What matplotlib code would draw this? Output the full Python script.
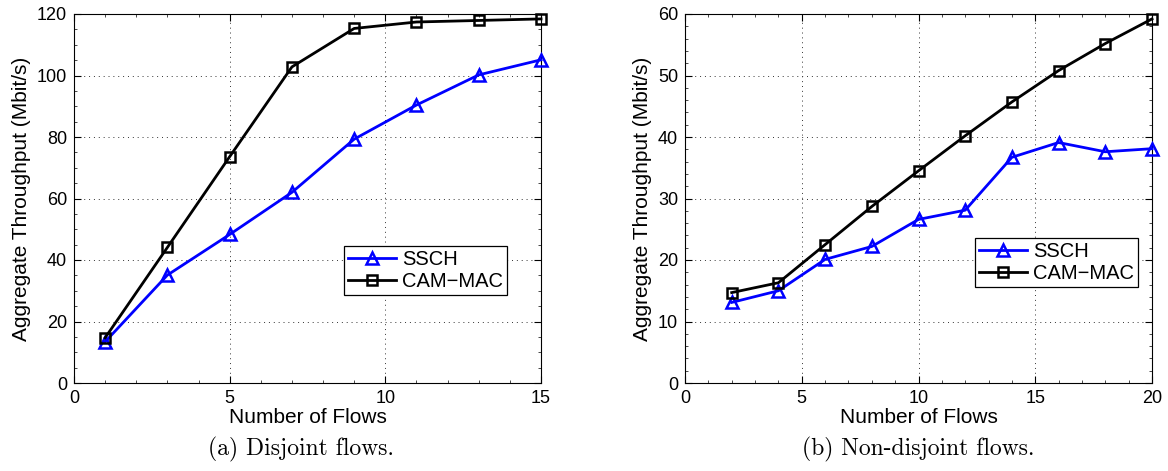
import numpy as np
import matplotlib.pyplot as plt

plt.rcParams['font.family'] = ['Liberation Sans', 'DejaVu Sans']

# (a) disjoint flows
flows_a = [1, 3, 5, 7, 9, 11, 13, 15]
ssch_a = [13.4, 35.1, 48.3, 62.0, 79.3, 90.4, 100.2, 105.1]
cam_a = [14.7, 44.1, 73.6, 102.8, 115.3, 117.4, 117.9, 118.4]

# (b) non-disjoint flows
flows_b = [2, 4, 6, 8, 10, 12, 14, 16, 18, 20]
ssch_b = [13.1, 15.0, 20.1, 22.2, 26.6, 28.1, 36.7, 39.1, 37.6, 38.1]
cam_b = [14.7, 16.3, 22.5, 28.7, 34.5, 40.2, 45.7, 50.8, 55.2, 59.2]

captions = ['(a) Disjoint flows.', '(b) Non-disjoint flows.']

W, H = 1168, 471
fig = plt.figure(figsize=(W / 100, H / 100), dpi=100)


def px_axes(x0, x1, y0, y1):
    return fig.add_axes([x0 / W, 1 - y1 / H, (x1 - x0) / W, (y1 - y0) / H])


ax1 = px_axes(74, 541, 14, 383)
ax2 = px_axes(685, 1152, 14, 383)

panels = [
    (ax1, flows_a, ssch_a, cam_a, 15, 120, [0, 5, 10, 15], np.arange(0, 121, 20)),
    (ax2, flows_b, ssch_b, cam_b, 20, 60, [0, 5, 10, 15, 20], np.arange(0, 61, 10)),
]

for ax, x, s, c, xmax, ymax, xt, yt in panels:
    ax.plot(x, s, color='blue', lw=2, marker='^', ms=9, mfc='none', mec='blue', mew=1.8,
            label='SSCH', clip_on=False, zorder=3)
    ax.plot(x, c, color='black', lw=2, marker='s', ms=6.5, mfc='none', mec='black', mew=1.8,
            label='CAM\u2212MAC', clip_on=False, zorder=4)
    ax.set_xlim(0, xmax)
    ax.set_ylim(0, ymax)
    ax.set_xticks(xt)
    ax.set_yticks(yt)
    ax.grid(True, linestyle=(0, (1, 4)), color='#333333', lw=0.7)
    ax.minorticks_on()
    ax.grid(False, which='minor')
    ax.tick_params(which='both', direction='in', top=True, right=True, labelsize=13)
    ax.tick_params(which='major', length=5, width=0.8, pad=5)
    ax.tick_params(which='minor', length=2, width=0.5)
    for sp in ax.spines.values():
        sp.set_linewidth(0.8)
    ax.set_xlabel('Number of Flows', fontsize=15, labelpad=1)
    ax.set_ylabel('Aggregate Throughput (Mbit/s)', fontsize=15, labelpad=4)

for ax, lx, ly in [(ax1, 344, 246), (ax2, 975, 238)]:
    x0 = 74 if ax is ax1 else 685
    leg = ax.legend(loc='upper left', bbox_to_anchor=((lx - x0) / 467, 1 - (ly - 14) / 369),
                    fontsize=14.5, fancybox=False, edgecolor='black', framealpha=1,
                    borderpad=0.2, handlelength=2.4, handletextpad=0.3, labelspacing=0.15,
                    borderaxespad=0)
    leg.get_frame().set_linewidth(0.9)

fig.text(301 / W, 1 - 449 / H, captions[0], ha='center', va='center', fontsize=17,
         family=['cmr10', 'DejaVu Serif'])
fig.text(918 / W, 1 - 449 / H, captions[1], ha='center', va='center', fontsize=17,
         family=['cmr10', 'DejaVu Serif'])

fig.savefig('out.png', dpi=100)
